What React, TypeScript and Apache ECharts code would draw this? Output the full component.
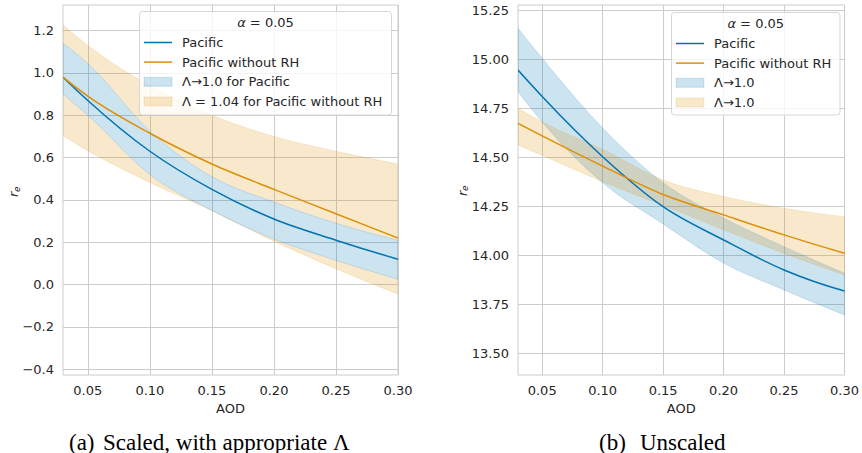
import React, { useEffect, useRef } from "react";
import * as echarts from "echarts";

// ---- data ----
const aod = [0.03, 0.05, 0.1, 0.15, 0.2, 0.25, 0.3];
const xTicks = [0.05, 0.1, 0.15, 0.2, 0.25, 0.3];
const yTicksA = [-0.4, -0.2, 0, 0.2, 0.4, 0.6, 0.8, 1.0, 1.2];
const yTicksB = [13.5, 13.75, 14.0, 14.25, 14.5, 14.75, 15.0, 15.25];

// (a) scaled
const pacificA = [0.98, 0.87, 0.63, 0.45, 0.31, 0.21, 0.12];
const noRhA = [0.98, 0.89, 0.715, 0.57, 0.45, 0.335, 0.22];
const pacLoA = [0.9, 0.8, 0.52, 0.35, 0.215, 0.115, 0.025];
const pacHiA = [1.14, 1.045, 0.725, 0.51, 0.39, 0.29, 0.21];
const noRhLoA = [0.704, 0.633, 0.483, 0.35, 0.205, 0.075, -0.045];
const noRhHiA = [1.226, 1.13, 0.94, 0.8, 0.7, 0.63, 0.57];

// (b) unscaled
const pacificB = [14.945, 14.81, 14.503, 14.248, 14.078, 13.925, 13.818];
const noRhB = [14.673, 14.609, 14.455, 14.31, 14.206, 14.104, 14.01];
const pacLoB = [14.835, 14.68, 14.37, 14.16, 13.96, 13.823, 13.695];
const pacHiB = [15.158, 15.005, 14.65, 14.37, 14.19, 14.044, 13.908];
const noRhLoB = [14.563, 14.51, 14.375, 14.255, 14.13, 14.01, 13.9];
const noRhHiB = [14.75, 14.68, 14.54, 14.384, 14.3, 14.24, 14.197];

const legendA = ["Pacific", "Pacific without RH", "Λ→1.0 for Pacific", "Λ = 1.04 for Pacific without RH"];
const legendB = ["Pacific", "Pacific without RH", "Λ→1.0", "Λ→1.0"];

// ---- styles ----
const BLUE = "#0173b2";
const ORANGE = "#de8f05";
const BLUE_FILL = "rgba(1,115,178,0.2)";
const ORANGE_FILL = "rgba(222,143,5,0.2)";
const BLUE_EDGE = "rgba(1,115,178,0.16)";
const ORANGE_EDGE = "rgba(222,143,5,0.16)";
const FONT = "DejaVu Sans";
const TXT = "#262626";
const GRIDC = "#cccccc";

// slopes of a smooth curve through (xs, ys) (non-uniform 3-point derivative)
function slopes(xs: number[], ys: number[]) {
  const n = xs.length;
  const h: number[] = [];
  const d: number[] = [];
  for (let i = 0; i < n - 1; i++) {
    h.push(xs[i + 1] - xs[i]);
    d.push((ys[i + 1] - ys[i]) / h[i]);
  }
  const m: number[] = new Array(n);
  for (let i = 1; i < n - 1; i++) {
    m[i] = (d[i] * h[i - 1] + d[i - 1] * h[i]) / (h[i - 1] + h[i]);
  }
  m[0] = ((2 * h[0] + h[1]) * d[0] - h[0] * d[1]) / (h[0] + h[1]);
  const k = n - 2;
  m[n - 1] = ((2 * h[k] + h[k - 1]) * d[k] - h[k] * d[k - 1]) / (h[k] + h[k - 1]);
  return m;
}

// bezier segments in pixel space, forward (left to right) or backward
function curvePath(api: any, ys: number[], backward: boolean, start: boolean) {
  const m = slopes(aod, ys);
  const n = aod.length;
  const P = (x: number, y: number) => api.coord([x, y]);
  let s = "";
  const idx = backward ? [...Array(n).keys()].reverse() : [...Array(n).keys()];
  const p0 = P(aod[idx[0]], ys[idx[0]]);
  s += (start ? "M" : "L") + p0[0].toFixed(2) + " " + p0[1].toFixed(2);
  for (let k = 0; k < n - 1; k++) {
    const i = idx[k];
    const j = idx[k + 1];
    const dx = (aod[j] - aod[i]) / 3;
    const c1 = P(aod[i] + dx, ys[i] + m[i] * dx);
    const c2 = P(aod[j] - dx, ys[j] - m[j] * dx);
    const pj = P(aod[j], ys[j]);
    s += " C" + [c1[0], c1[1], c2[0], c2[1], pj[0], pj[1]].map((v) => v.toFixed(2)).join(" ");
  }
  return s;
}

function band(idx: number, lo: number[], hi: number[], fill: string, edge: string | null, z: number) {
  return {
    type: "custom",
    xAxisIndex: idx,
    yAxisIndex: idx,
    silent: true,
    clip: true,
    z,
    data: aod.map((x, i) => [x, lo[i], hi[i]]),
    encode: { x: 0, y: [1, 2] },
    renderItem: (params: any, api: any) => {
      if (params.dataIndex !== 0) return null;
      const d = curvePath(api, hi, false, true) + " " + curvePath(api, lo, true, false) + " Z";
      return {
        type: "path",
        shape: { pathData: d },
        style: edge ? { fill, stroke: edge, lineWidth: 1 } : { fill, stroke: "none" },
      };
    },
  };
}

function line(idx: number, ys: number[], color: string, width: number, z: number) {
  return {
    type: "custom",
    xAxisIndex: idx,
    yAxisIndex: idx,
    silent: true,
    clip: true,
    z,
    data: aod.map((x, i) => [x, ys[i]]),
    encode: { x: 0, y: 1 },
    renderItem: (params: any, api: any) => {
      if (params.dataIndex !== 0) return null;
      return {
        type: "path",
        shape: { pathData: curvePath(api, ys, false, true) },
        style: { fill: "none", stroke: color, lineWidth: width },
      };
    },
  };
}

function xAxis(idx: number) {
  return {
    type: "value",
    gridIndex: idx,
    min: 0.03,
    max: 0.3,
    name: "AOD",
    nameLocation: "middle",
    nameGap: 23,
    nameTextStyle: { fontFamily: FONT, fontSize: 13, color: TXT },
    axisLine: { show: false },
    axisTick: { show: false, customValues: xTicks },
    axisLabel: {
      customValues: xTicks,
      fontFamily: FONT,
      fontSize: 13,
      color: TXT,
      margin: 9,
      formatter: (v: number) => v.toFixed(2),
    },
    splitLine: { show: true, lineStyle: { color: GRIDC, width: 1 } },
  };
}

function yAxis(idx: number, min: number, max: number, ticks: number[], dec: number) {
  return {
    type: "value",
    gridIndex: idx,
    min,
    max,
    axisLine: { show: false },
    axisTick: { show: false, customValues: ticks },
    axisLabel: {
      customValues: ticks,
      fontFamily: FONT,
      fontSize: 13,
      color: TXT,
      margin: 9,
      formatter: (v: number) => v.toFixed(dec).replace("-", "\u2212"),
    },
    splitLine: { show: true, lineStyle: { color: GRIDC, width: 1 } },
  };
}

function legendGraphic(x: number, y: number, w: number, h: number, lineX: number, textX: number, labels: string[]) {
  const cx = x + w / 2;
  const rows = [y + 31, y + 50.6, y + 70.3, y + 90];
  const els: any[] = [
    {
      type: "rect",
      shape: { x, y, width: w, height: h, r: 3 },
      style: { fill: "rgba(255,255,255,0.8)", stroke: "#d6d6d6", lineWidth: 1 },
      z: 20,
    },
    {
      type: "text",
      x: cx,
      y: y + 11,
      style: {
        text: "{a|α} = 0.05",
        align: "center",
        verticalAlign: "middle",
        fontFamily: FONT,
        fontSize: 13,
        fill: TXT,
        rich: { a: { fontStyle: "italic", fontFamily: FONT, fontSize: 13, fill: TXT } },
      },
      z: 21,
    },
    { type: "line", shape: { x1: lineX, y1: rows[0], x2: lineX + 28, y2: rows[0] }, style: { stroke: BLUE, lineWidth: 1.5 }, z: 21 },
    { type: "line", shape: { x1: lineX, y1: rows[1], x2: lineX + 28, y2: rows[1] }, style: { stroke: ORANGE, lineWidth: 1.5 }, z: 21 },
    { type: "rect", shape: { x: lineX, y: rows[2] - 4.5, width: 28, height: 9 }, style: { fill: BLUE_FILL, stroke: BLUE_EDGE, lineWidth: 1 }, z: 21 },
    { type: "rect", shape: { x: lineX, y: rows[3] - 4.5, width: 28, height: 9 }, style: { fill: ORANGE_FILL, stroke: ORANGE_EDGE, lineWidth: 1 }, z: 21 },
  ];
  labels.forEach((t, i) => {
    els.push({
      type: "text",
      x: textX,
      y: rows[i],
      style: { text: t, align: "left", verticalAlign: "middle", fontFamily: FONT, fontSize: 13, fill: TXT },
      z: 21,
    });
  });
  return els;
}

function yLabel(x: number, y: number) {
  return {
    type: "group",
    x,
    y,
    rotation: Math.PI / 2,
    children: [
      {
        type: "text",
        x: 0,
        y: 0,
        style: { text: "r", align: "left", verticalAlign: "middle", fontFamily: FONT, fontStyle: "italic", fontSize: 13, fill: TXT },
      },
      {
        type: "text",
        x: 5,
        y: 3,
        style: { text: "e", align: "left", verticalAlign: "middle", fontFamily: FONT, fontStyle: "italic", fontSize: 9, fill: TXT },
      },
    ],
  };
}

function caption(x: number, y: number, label: string, rest: string, restLeft: number) {
  const st = { align: "left", verticalAlign: "middle", fontFamily: "Liberation Serif", fontSize: 23, fill: "#000" };
  return [
    { type: "text", x, y, style: { ...st, text: label } },
    { type: "text", x: restLeft, y, style: { ...st, text: rest } },
  ];
}

export default function App() {
  const ref = useRef<HTMLDivElement>(null);
  useEffect(() => {
    if (!ref.current) return;
    const chart = echarts.init(ref.current, null, { renderer: "svg" });
    const option: any = {
      animation: false,
      backgroundColor: "#ffffff",
      grid: [
        { left: 63, top: 5, width: 335, height: 370, show: true, borderColor: GRIDC, borderWidth: 1, backgroundColor: "transparent" },
        { left: 518, top: 5, width: 329, height: 370, show: true, borderColor: GRIDC, borderWidth: 1, backgroundColor: "transparent" },
      ],
      xAxis: [xAxis(0), xAxis(1)],
      yAxis: [yAxis(0, -0.427, 1.321, yTicksA, 1), yAxis(1, 13.389, 15.277, yTicksB, 2)],
      series: [
        // orange band of (a), filled around the blue band (below and above it)
        band(0, noRhLoA, pacLoA, ORANGE_FILL, null, 2),
        band(0, pacHiA, noRhHiA, ORANGE_FILL, null, 2),
        line(0, noRhLoA, ORANGE_EDGE, 1, 2),
        line(0, noRhHiA, ORANGE_EDGE, 1, 2),
        band(0, pacLoA, pacHiA, BLUE_FILL, BLUE_EDGE, 3),
        line(0, pacificA, BLUE, 1.5, 5),
        line(0, noRhA, ORANGE, 1.5, 5),
        band(1, pacLoB, pacHiB, BLUE_FILL, BLUE_EDGE, 2),
        band(1, noRhLoB, noRhHiB, ORANGE_FILL, ORANGE_EDGE, 3),
        line(1, pacificB, BLUE, 1.5, 5),
        line(1, noRhB, ORANGE, 1.5, 5),
      ],
      graphic: [
        ...legendGraphic(139.5, 11.5, 252, 103.5, 144, 182, legendA),
        ...legendGraphic(671.5, 12.5, 168.5, 102.5, 676, 714, legendB),
        yLabel(13.5, 197),
        yLabel(462, 196),
        ...caption(69, 442, "(a)", "Scaled, with appropriate Λ", 103),
        ...caption(599, 442, "(b)", "Unscaled", 640),
      ],
    };
    chart.setOption(option);
    return () => chart.dispose();
  }, []);
  return <div ref={ref} style={{ position: "fixed", left: 0, top: 0, width: 862, height: 453 }} />;
}
